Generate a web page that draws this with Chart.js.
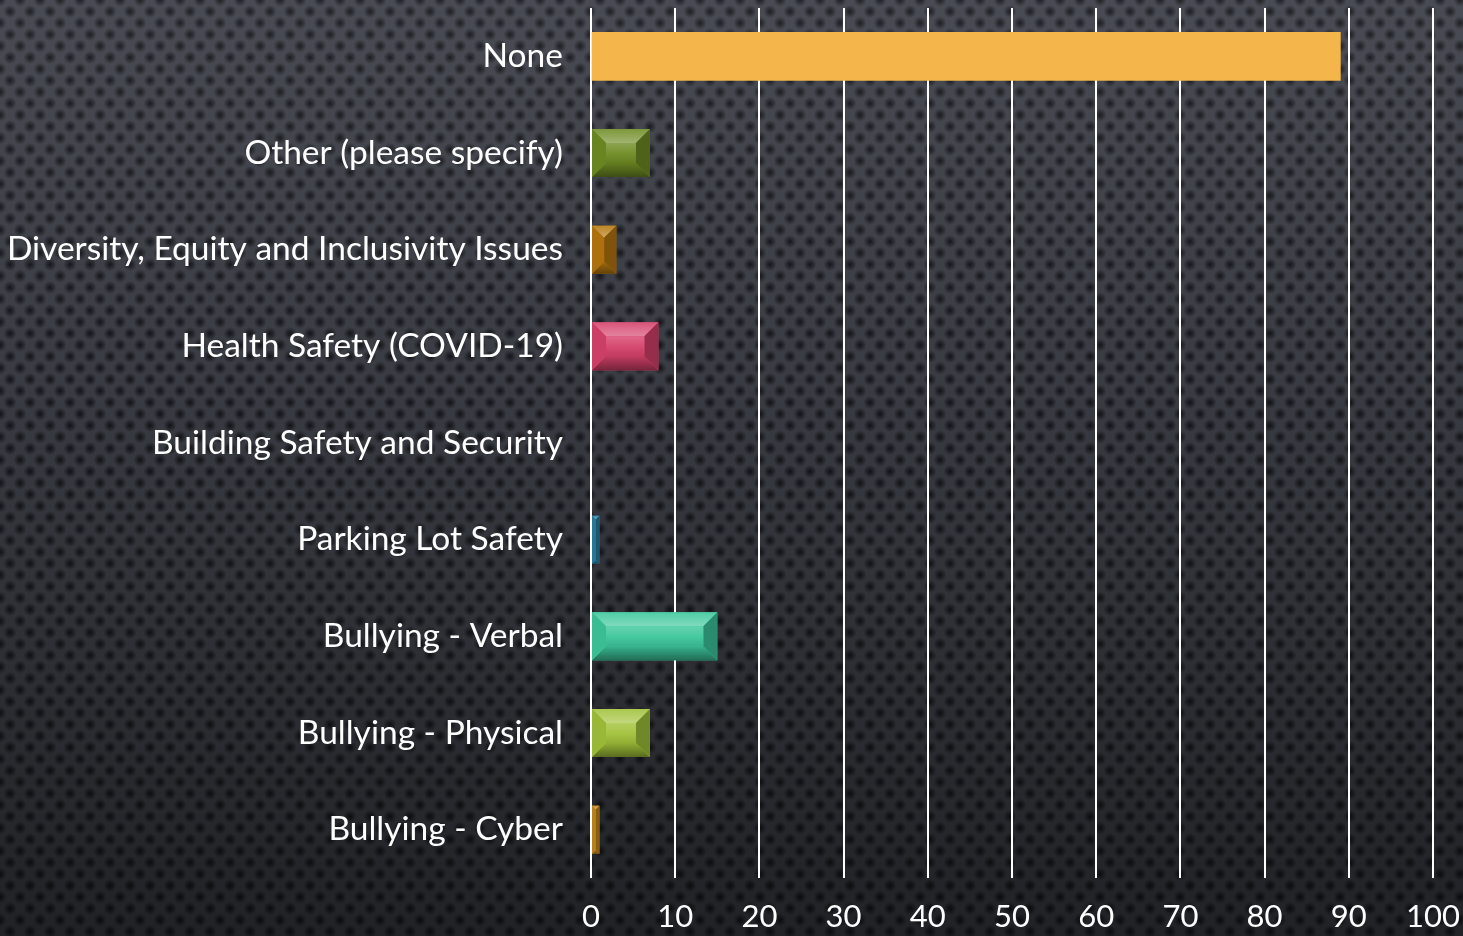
<!DOCTYPE html>
<html>
<head>
<meta charset="utf-8">
<script src="https://cdn.jsdelivr.net/npm/chart.js@4"></script>
<style>
html,body{margin:0;padding:0;width:1463px;height:936px;overflow:hidden;}
body{
  background-color:#41444c;
  background-image:
    linear-gradient(to bottom, rgba(255,255,255,0.04) 0%, rgba(0,0,0,0.12) 40%, rgba(0,0,0,0.5) 100%),
    radial-gradient(circle at 50% 50%, rgba(10,10,14,0.8) 0, rgba(10,10,14,0.45) 3px, rgba(10,10,14,0) 6.5px),
    radial-gradient(circle at 50% 50%, rgba(10,10,14,0.8) 0, rgba(10,10,14,0.45) 3px, rgba(10,10,14,0) 6.5px);
  background-size:100% 100%, 20px 23px, 20px 23px;
  background-position:0 0, 0 0, 10px 11.5px;
}
canvas{display:block;}
</style>
</head>
<body>
<canvas id="c" width="1463" height="936"></canvas>
<script>
const categories = ["None","Other (please specify)","Diversity, Equity and Inclusivity Issues","Health Safety (COVID-19)","Building Safety and Security","Parking Lot Safety","Bullying - Verbal","Bullying - Physical","Bullying - Cyber"];
const values = [89, 7, 3, 8, 0, 1, 15, 7, 1];
const barColors = ["#F4B64A","#6F8C24","#B5770F","#D6416B","#888888","#2A7C9E","#3DC79B","#A2C23A","#C2861E"];
const xTicks = [0,10,20,30,40,50,60,70,80,90,100];
const FONT = "Lato";

function shade(hex, amt){
  let n=parseInt(hex.slice(1),16);
  let r=(n>>16)&255,g=(n>>8)&255,b=n&255;
  const f=c=>Math.max(0,Math.min(255,Math.round(amt>0? c+(255-c)*amt : c*(1+amt))));
  return `rgb(${f(r)},${f(g)},${f(b)})`;
}

const bevelPlugin = {
  id:'bevel',
  afterDatasetsDraw(chart){
    const ctx=chart.ctx;
    const meta=chart.getDatasetMeta(0);
    meta.data.forEach((bar,i)=>{
      if(i===0) return;
      const p=bar.getProps(['x','y','base','height'],true);
      const x0=Math.min(p.base,p.x), x1=Math.max(p.base,p.x);
      const y0=p.y-p.height/2, y1=p.y+p.height/2;
      const w=x1-x0, h=y1-y0;
      if(w<=0) return;
      const c=barColors[i];
      const b=Math.min(14, w/2, h/2);
      ctx.save();
      ctx.fillStyle=c; ctx.fillRect(x0,y0,w,h);
      ctx.beginPath(); ctx.moveTo(x0,y0); ctx.lineTo(x1,y0); ctx.lineTo(x1-b,y0+b); ctx.lineTo(x0+b,y0+b); ctx.closePath();
      let g=ctx.createLinearGradient(0,y0,0,y0+b); g.addColorStop(0,shade(c,0.1)); g.addColorStop(1,shade(c,0.35));
      ctx.fillStyle=g; ctx.fill();
      ctx.beginPath(); ctx.moveTo(x0,y1); ctx.lineTo(x1,y1); ctx.lineTo(x1-b,y1-b); ctx.lineTo(x0+b,y1-b); ctx.closePath();
      g=ctx.createLinearGradient(0,y1-b,0,y1); g.addColorStop(0,shade(c,-0.1)); g.addColorStop(1,shade(c,-0.45));
      ctx.fillStyle=g; ctx.fill();
      ctx.beginPath(); ctx.moveTo(x1,y0); ctx.lineTo(x1,y1); ctx.lineTo(x1-b,y1-b); ctx.lineTo(x1-b,y0+b); ctx.closePath();
      ctx.fillStyle=shade(c,-0.3); ctx.fill();
      ctx.beginPath(); ctx.moveTo(x0,y0); ctx.lineTo(x0,y1); ctx.lineTo(x0+b,y1-b); ctx.lineTo(x0+b,y0+b); ctx.closePath();
      ctx.fillStyle=shade(c,-0.05); ctx.fill();
      g=ctx.createLinearGradient(0,y0+b,0,y1-b); g.addColorStop(0,shade(c,0.2)); g.addColorStop(0.5,shade(c,0.05)); g.addColorStop(1,shade(c,-0.1));
      ctx.fillStyle=g; ctx.fillRect(x0+b,y0+b,Math.max(0,w-2*b),Math.max(0,h-2*b));
      ctx.restore();
    });
  }
};

new Chart(document.getElementById('c'),{
  type:'bar',
  data:{labels:categories,datasets:[{data:values,
    backgroundColor:(ctx)=> ctx.dataIndex===0? barColors[0] : 'rgba(0,0,0,0)',
    borderWidth:0, barThickness:48}]},
  options:{
    indexAxis:'y', responsive:false, animation:false,
    layout:{padding:{top:8,right:30,bottom:0,left:8}},
    plugins:{legend:{display:false},tooltip:{enabled:false}},
    scales:{
      x:{min:0,max:100,
        afterBuildTicks:(ax)=>{ax.ticks=xTicks.map(v=>({value:v}));},
        afterFit:(s)=>{s.paddingLeft=0;s.paddingRight=0;s.height=58;},
        grid:{color:'#ffffff',lineWidth:2,drawTicks:true,tickLength:0},
        border:{display:false},
        ticks:{color:'#ffffff',font:{family:FONT,size:31},padding:20}
      },
      y:{grid:{display:false},border:{display:false},
        afterFit:(s)=>{s.paddingTop=0;s.paddingBottom=0;s.width=583;},
        ticks:{color:'#ffffff',font:{family:FONT,size:33.5},padding:20}}
    }
  },
  plugins:[bevelPlugin]
});
</script>
</body>
</html>
